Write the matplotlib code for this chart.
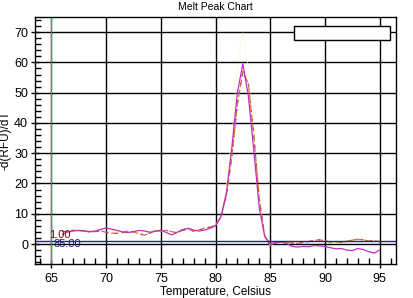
import matplotlib.pyplot as plt
import numpy as np
from matplotlib.ticker import MultipleLocator

plt.rcParams["font.family"] = ["Liberation Sans", "DejaVu Sans"]

# 温度 (0.5 ℃ 刻み)
temps = [66.0, 66.5, 67.0, 67.5, 68.0, 68.5, 69.0, 69.5, 70.0, 70.5,
         71.0, 71.5, 72.0, 72.5, 73.0, 73.5, 74.0, 74.5, 75.0, 75.5,
         76.0, 76.5, 77.0, 77.5, 78.0, 78.5, 79.0, 79.5, 80.0, 80.5,
         81.0, 81.5, 82.0, 82.5, 83.0, 83.5, 84.0, 84.5, 85.0, 85.5,
         86.0, 86.5, 87.0, 87.5, 88.0, 88.5, 89.0, 89.5, 90.0, 90.5,
         91.0, 91.5, 92.0, 92.5, 93.0, 93.5, 94.0, 94.5, 95.0]

well_a = [4.2, 4.0, 4.3, 4.5, 4.4, 4.1, 4.3, 4.8, 5.3, 4.9,
          4.5, 4.0, 3.8, 4.1, 4.5, 4.3, 3.9, 4.2, 4.6, 3.8,
          3.0, 3.9, 4.8, 5.2, 4.6, 4.3, 4.6, 5.2, 6.0, 9.0,
          17.0, 32.0, 50.0, 59.5, 49.0, 31.0, 12.0, 2.5, 0.2, 0.3,
          0.8, 0.2, -0.8, -1.0, -0.8, -0.9, -0.5, -0.6, -0.8, -1.2,
          -1.6, -1.5, -2.0, -2.2, -1.5, -1.8, -2.5, -3.0, -2.0]

well_b = [3.2, 4.0, 4.6, 4.4, 4.2, 4.0, 4.1, 4.3, 3.9, 3.6,
          3.5, 3.8, 4.3, 4.0, 3.4, 2.9, 3.6, 4.4, 4.2, 4.5,
          4.1, 3.7, 4.5, 5.0, 4.2, 4.6, 5.3, 5.6, 6.2, 9.0,
          16.0, 29.0, 46.0, 57.0, 53.0, 36.0, 15.0, 2.5, -0.5, 0.5,
          0.6, 0.4, 0.3, 0.2, 0.5, 0.8, 1.2, 1.4, 1.1, 0.6,
          0.8, 0.5, 0.9, 1.3, 1.6, 1.4, 1.0, 1.1, 0.8]

well_c = [3.5, 3.9, 4.4, 4.6, 4.3, 4.2, 4.5, 4.6, 4.2, 3.9,
          3.7, 3.6, 4.0, 4.2, 3.8, 3.3, 3.8, 4.3, 4.4, 4.3,
          4.0, 3.8, 4.6, 5.1, 4.4, 4.5, 5.0, 5.4, 6.1, 10.0,
          20.0, 36.0, 58.0, 70.0, 58.0, 38.0, 15.0, 3.0, 0.0, 0.4,
          0.5, 0.3, 0.2, 0.3, 0.6, 0.9, 1.1, 1.2, 1.0, 0.7,
          0.6, 0.6, 0.8, 1.2, 1.4, 1.3, 1.1, 1.0, 0.9]

threshold = 1.00
start_temp = 65.0

fig = plt.figure(figsize=(4.14, 2.98), dpi=100)
ax = fig.add_axes([35 / 414, 34 / 298, 361 / 414, 247 / 298])

ax.set_xlim(63.5, 96.5)
ax.set_ylim(-6.6, 75)

ax.grid(True, which="major", color="black", linewidth=1.0)
ax.set_axisbelow(True)

ax.plot(temps, well_c, color="#f5eaa0", linewidth=0.8, linestyle=(0, (1, 2)), alpha=0.8)
ax.plot(temps, well_b, color="#c08040", linewidth=0.9, linestyle=(0, (6, 2)))
ax.plot(temps, well_a, color="#c030c0", linewidth=0.9)
ax.plot(temps, well_b, color="#e03080", linewidth=0.8, linestyle=(0, (2, 6)))

# しきい値と開始温度
ax.axhline(threshold, color="#202090", linewidth=1.0)
ax.axvline(start_temp, color="#d06060", linewidth=0.7)
ax.text(64.8, 3.0, f"{threshold:.2f}", color="#701010", fontsize=8, va="center")
ax.text(65.2, 0.0, f"{85:.2f}", color="#202070", fontsize=8, va="center")

ax.xaxis.set_major_locator(MultipleLocator(5))
ax.xaxis.set_minor_locator(MultipleLocator(1))
ax.yaxis.set_major_locator(MultipleLocator(10))
ax.yaxis.set_minor_locator(MultipleLocator(2))
ax.tick_params(which="major", direction="inout", length=6, width=1, labelsize=9)
ax.tick_params(which="minor", direction="in", length=4, width=1)
ax.tick_params(axis="y", which="major", pad=2)
ax.tick_params(axis="x", which="both", top=False)
ax.tick_params(axis="y", which="both", right=False)
for s in ax.spines.values():
    s.set_linewidth(1.0)

# 空の凡例枠
ax.add_patch(plt.Rectangle((294 / 414, 258 / 298), 96 / 414, 14 / 298,
                           transform=fig.transFigure, facecolor="white",
                           edgecolor="black", linewidth=1.0, zorder=5))

ax.set_title("Melt Peak Chart", fontsize=7.5, pad=5)
ax.set_xlabel("Temperature, Celsius", fontsize=8.5, labelpad=1)
ax.set_ylabel("-d(RFU)/dT", fontsize=8.5)
ax.yaxis.set_label_coords(-0.066, 0.5)

fig.savefig("out.png", dpi=100)
